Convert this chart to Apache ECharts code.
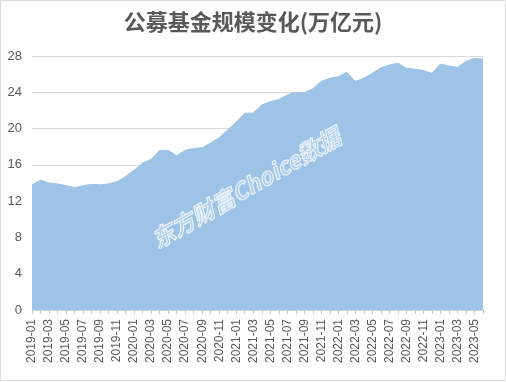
<!DOCTYPE html>
<html>
<head>
<meta charset="utf-8">
<script src="https://cdn.jsdelivr.net/npm/echarts@6/dist/echarts.min.js"></script>
<style>html,body{margin:0;padding:0;background:#fff;}#c{width:506px;height:382px;}</style>
</head>
<body>
<div id="c"></div>
<script>
const categories = [
  '2019-01','2019-02','2019-03','2019-04','2019-05','2019-06','2019-07','2019-08','2019-09','2019-10','2019-11','2019-12',
  '2020-01','2020-02','2020-03','2020-04','2020-05','2020-06','2020-07','2020-08','2020-09','2020-10','2020-11','2020-12',
  '2021-01','2021-02','2021-03','2021-04','2021-05','2021-06','2021-07','2021-08','2021-09','2021-10','2021-11','2021-12',
  '2022-01','2022-02','2022-03','2022-04','2022-05','2022-06','2022-07','2022-08','2022-09','2022-10','2022-11','2022-12',
  '2023-01','2023-02','2023-03','2023-04','2023-05','2023-06'
];
const scale = [
  13.8, 14.3, 14.0, 13.9, 13.7, 13.5, 13.7, 13.85, 13.8, 13.9, 14.15, 14.7,
  15.4, 16.2, 16.6, 17.6, 17.6, 17.0, 17.6, 17.8, 17.9, 18.4, 19.0, 19.85,
  20.7, 21.7, 21.7, 22.6, 22.95, 23.2, 23.7, 24.0, 23.95, 24.4, 25.2, 25.55,
  25.7, 26.2, 25.2, 25.55, 26.1, 26.7, 27.0, 27.2, 26.65, 26.55, 26.4, 26.1,
  27.1, 26.9, 26.75, 27.4, 27.75, 27.65
];
const yTicks = [0, 4, 8, 12, 16, 20, 24, 28];
const titleText = '公募基金规模变化(万亿元)';
const watermark = '东方财富Choice数据';

const chart = echarts.init(document.getElementById('c'), null, {renderer: 'canvas'});
chart.setOption({
  animation: false,
  backgroundColor: '#ffffff',
  title: {
    text: titleText,
    left: 'center',
    top: 6,
    textStyle: {fontFamily: 'Noto Sans CJK SC', fontSize: 22, fontWeight: 'bold', color: '#595959'}
  },
  grid: {left: 32, right: 23, top: 56, bottom: 72},
  xAxis: {
    type: 'category',
    data: categories,
    boundaryGap: false,
    axisLine: {lineStyle: {color: '#d0d0d0'}},
    axisTick: {interval: 0, length: 4, lineStyle: {color: '#c8c8c8'}},
    axisLabel: {interval: 1, rotate: 90, fontSize: 12, color: '#595959', fontFamily: 'Liberation Sans', margin: 9}
  },
  yAxis: {
    type: 'value',
    min: yTicks[0],
    max: yTicks[yTicks.length - 1],
    interval: yTicks[1] - yTicks[0],
    axisLine: {show: false},
    axisTick: {show: false},
    axisLabel: {fontSize: 13, color: '#595959', fontFamily: 'Liberation Sans', margin: 10},
    splitLine: {lineStyle: {color: '#d9d9d9'}}
  },
  series: [{
    type: 'line',
    data: scale,
    symbol: 'none',
    smooth: false,
    lineStyle: {width: 1, color: '#9dc3e6'},
    areaStyle: {color: '#9dc3e6', opacity: 1},
    z: 2
  }],
  graphic: [
    {
      type: 'rect',
      shape: {x: 0.5, y: 0.5, width: 505, height: 380},
      style: {fill: 'none', stroke: '#dcdcdc', lineWidth: 1},
      silent: true
    },
    {
      type: 'text',
      x: 246, y: 188,
      rotation: Math.PI * 30 / 180,
      style: {
        text: watermark,
        x: 0, y: 0,
        align: 'center', verticalAlign: 'middle',
        font: 'italic bold 23px "Noto Sans CJK SC"',
        fill: 'rgba(255,255,255,0.2)',
        stroke: 'rgba(255,255,255,0.75)',
        lineWidth: 1.2
      },
      z: 10,
      silent: true
    }
  ]
});
</script>
</body>
</html>
